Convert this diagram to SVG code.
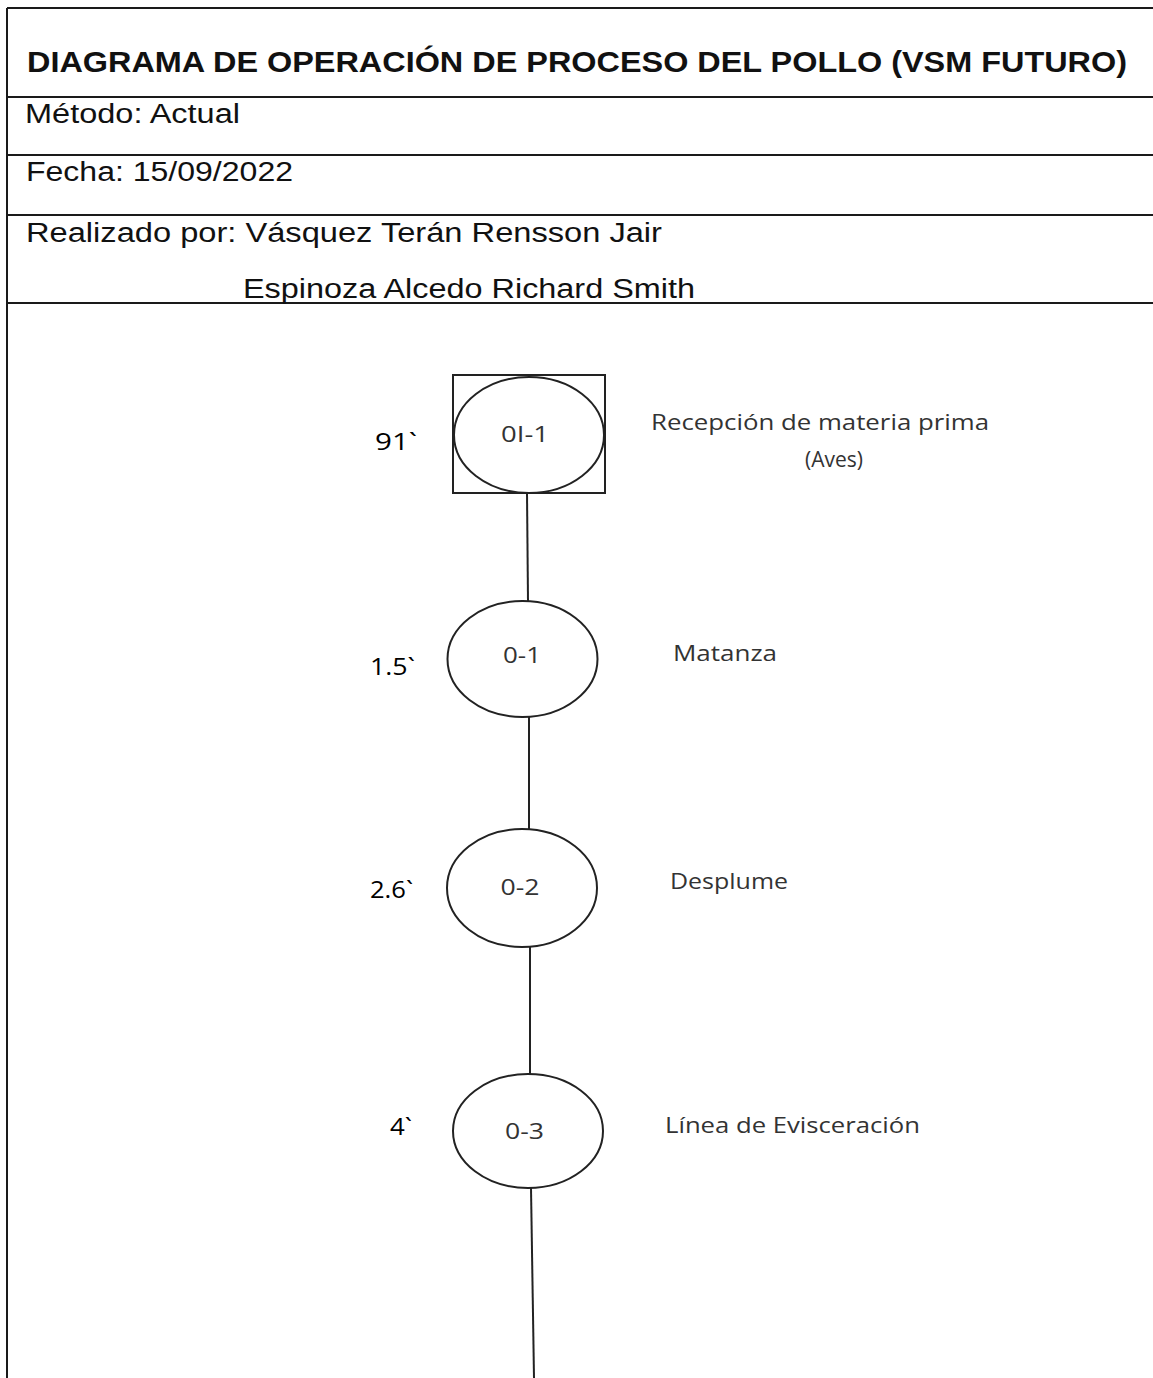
<svg xmlns="http://www.w3.org/2000/svg" width="1153" height="1378" viewBox="0 0 1153 1378">
  <style>
    .rule { stroke: #1a1a1a; stroke-width: 2; fill: none; }
    .head { font-family: "Liberation Sans", Arial, sans-serif; fill: #111; }
    .title { font-size: 30px; font-weight: bold; }
    .field { font-size: 27px; }
    .shape { fill: #fff; stroke: #222; stroke-width: 2; }
    .code { font-family: "Open Sans", "Noto Sans", sans-serif; font-size: 21px; fill: #333; }
    .time { font-family: "Open Sans", "Noto Sans", sans-serif; font-size: 24px; fill: #000; }
    .desc { font-family: "Open Sans", "Noto Sans", sans-serif; font-size: 22px; fill: #333; }
    .link { stroke: #222; stroke-width: 2; fill: none; }
  </style>
  <rect width="1153" height="1378" fill="#fff"/>

  <!-- header table -->
  <g id="header">
    <line class="rule" x1="7" y1="8" x2="1153" y2="8"/>
    <line class="rule" x1="7" y1="8" x2="7" y2="1378"/>
    <line class="rule" x1="7" y1="97" x2="1153" y2="97"/>
    <line class="rule" x1="7" y1="155" x2="1153" y2="155"/>
    <line class="rule" x1="7" y1="215" x2="1153" y2="215"/>
    <line class="rule" x1="7" y1="303" x2="1153" y2="303"/>
    <text class="head title" x="27" y="72" textLength="1100" lengthAdjust="spacingAndGlyphs">DIAGRAMA DE OPERACIÓN DE PROCESO DEL POLLO (VSM FUTURO)</text>
    <text class="head field" x="25" y="123" textLength="215" lengthAdjust="spacingAndGlyphs">Método: Actual</text>
    <text class="head field" x="26" y="181" textLength="267" lengthAdjust="spacingAndGlyphs">Fecha: 15/09/2022</text>
    <text class="head field" x="26" y="242" textLength="636" lengthAdjust="spacingAndGlyphs">Realizado por: Vásquez Terán Rensson Jair</text>
    <text class="head field" x="243" y="298" textLength="452" lengthAdjust="spacingAndGlyphs">Espinoza Alcedo Richard Smith</text>
  </g>

  <!-- connectors -->
  <g id="connectors">
    <line class="link" x1="527" y1="493" x2="528" y2="601"/>
    <line class="link" x1="529" y1="717" x2="529" y2="829"/>
    <line class="link" x1="530" y1="947" x2="530" y2="1074"/>
    <line class="link" x1="531" y1="1188" x2="534" y2="1378"/>
  </g>

  <!-- combined operation-inspection -->
  <g id="node-OI-1">
    <rect class="shape" x="453" y="375" width="152" height="118"/>
    <ellipse class="shape" cx="529" cy="435" rx="75" ry="58"/>
    <text class="code" x="525" y="442" text-anchor="middle" textLength="48" lengthAdjust="spacingAndGlyphs">0I-1</text>
    <text class="time" x="375" y="450" textLength="42" lengthAdjust="spacingAndGlyphs">91`</text>
    <text class="desc" x="820" y="430" text-anchor="middle" textLength="338" lengthAdjust="spacingAndGlyphs">Recepción de materia prima</text>
    <text class="desc" x="834" y="467" text-anchor="middle" textLength="58" lengthAdjust="spacingAndGlyphs">(Aves)</text>
  </g>

  <g id="node-0-1">
    <ellipse class="shape" cx="522.5" cy="659" rx="75" ry="58"/>
    <text class="code" x="522" y="663" text-anchor="middle" textLength="38" lengthAdjust="spacingAndGlyphs">0-1</text>
    <text class="time" x="370" y="675" textLength="45" lengthAdjust="spacingAndGlyphs">1.5`</text>
    <text class="desc" x="673" y="661" textLength="104" lengthAdjust="spacingAndGlyphs">Matanza</text>
  </g>

  <g id="node-0-2">
    <ellipse class="shape" cx="522" cy="888" rx="75" ry="59"/>
    <text class="code" x="520" y="895" text-anchor="middle" textLength="39" lengthAdjust="spacingAndGlyphs">0-2</text>
    <text class="time" x="370" y="898" textLength="43" lengthAdjust="spacingAndGlyphs">2.6`</text>
    <text class="desc" x="670" y="889" textLength="118" lengthAdjust="spacingAndGlyphs">Desplume</text>
  </g>

  <g id="node-0-3">
    <ellipse class="shape" cx="528" cy="1131" rx="75" ry="57"/>
    <text class="code" x="524.5" y="1139" text-anchor="middle" textLength="39" lengthAdjust="spacingAndGlyphs">0-3</text>
    <text class="time" x="390" y="1135" textLength="22" lengthAdjust="spacingAndGlyphs">4`</text>
    <text class="desc" x="665" y="1133" textLength="255" lengthAdjust="spacingAndGlyphs">Línea de Evisceración</text>
  </g>
</svg>
